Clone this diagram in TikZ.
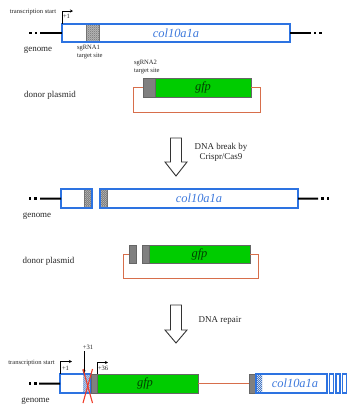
\documentclass[tikz,border=0pt]{standalone}
\usepackage{fontspec}
\setmainfont{Liberation Serif}
\usetikzlibrary{arrows.meta,patterns,fit}
\pgfdeclarepatternformonly{finecheck}{\pgfqpoint{-.1pt}{-.1pt}}{\pgfqpoint{2.1pt}{2.1pt}}{\pgfqpoint{2pt}{2pt}}{%
  \pgfpathrectangle{\pgfqpoint{0pt}{0pt}}{\pgfqpoint{1pt}{1pt}}%
  \pgfpathrectangle{\pgfqpoint{1pt}{1pt}}{\pgfqpoint{1pt}{1pt}}%
  \pgfusepath{fill}}
\definecolor{gblue}{RGB}{45,115,225}
\definecolor{gtext}{RGB}{60,120,220}
\definecolor{gfpgreen}{RGB}{0,204,0}
\definecolor{sggray}{RGB}{128,128,128}
\definecolor{plorange}{RGB}{215,110,75}
\definecolor{xred}{RGB}{240,60,40}
\begin{document}
\begin{tikzpicture}[x=1bp,y=-1bp,
  every node/.style={outer sep=0pt, inner sep=0pt, text=black!85},
  genebox/.style={draw=gblue, line width=1.3bp},
  gfpbox/.style={draw=black!60, line width=0.8bp, fill=gfpgreen},
  sgbox/.style={draw=black!60, line width=0.8bp, fill=sggray},
  checker/.style={draw=black!55, line width=0.4bp, pattern=finecheck, pattern color=black!75},
  bchecker/.style={pattern=finecheck, pattern color=gblue!70!gray},
  chrom/.style={line width=2bp, black},
  dotm/.style={fill=black, minimum size=2.6bp},
  plasmid/.style={draw=plorange, line width=1bp},
  lbl/.style={font=\fontsize{9}{10}\selectfont},
  small/.style={font=\fontsize{6.6}{8}\selectfont},
  gene/.style={font=\fontsize{12.5}{13}\selectfont\itshape, text=gtext},
  gfptext/.style={font=\fontsize{12.5}{13}\selectfont\itshape, text=black!75!green},
  tss/.style={-{Stealth[length=3bp,width=3bp]}, line width=0.6bp},
  bigarrow/.style={draw=black!80, line width=0.9bp, fill=white},
  redx/.style={draw=xred, line width=1.1bp}
]
\useasboundingbox (0,0) rectangle (347,407);

% ---------------- Section 1 ----------------
\node[checker, fit={(86,24) (99,42)}] (c1) {};
\node[genebox, fit={(62,24) (290,42)}] (g1) {};
\node[gene] (g1t) at (g1.center) {col10a1a};
\node[dotm] (d1a) at (30.5,33) {};
\node[dotm] (d1b) at (35.8,33) {};
\coordinate (l1) at (40,33);
\draw[chrom] (l1) -- (g1.west);
\coordinate (r1) at (311,33);
\draw[chrom] (g1.east) -- (r1);
\node[dotm] (d1c) at (315,33) {};
\node[dotm] (d1d) at (320.5,33) {};
\coordinate (t1e) at (73,11);
\draw[tss] (g1.north west) |- (t1e);
\node[small, anchor=west] (p1) at (63,16.5) {+1};
\node[small] (ts1) at (33,12) {transcription start};
\node[small, align=left, anchor=north west] (sg1) at (77,45.5) {sgRNA1\\target site};
\node[lbl] (gen1) at (38,50) {genome};

\node[sgbox, fit={(143,78) (155,97)}] (s2) {};
\node[gfpbox, fit={(155,78) (251,97)}] (gfp1) {};
\node[gfptext] (gfp1t) at (gfp1.center) {gfp};
\coordinate (o1a) at (133,112);
\coordinate (o1b) at (260,112);
\draw[plasmid] (s2.west) -| (o1a) -- (o1b) |- (gfp1.east);
\node[small, align=left, anchor=north west] (sg2) at (134,60.5) {sgRNA2\\target site};
\node[lbl] (don1) at (50,95) {donor plasmid};

% arrow 1
\draw[bigarrow] (170.5,138) -- (181.5,138) -- (181.5,162) -- (187,162) -- (176,176) -- (165,162) -- (170.5,162) -- cycle;
\node[lbl, align=center] (brk) at (221,152) {DNA break by\\Crispr/Cas9};

% ---------------- Section 2 ----------------
\node[checker, fit={(84,189) (91.5,208)}] (c2a) {};
\node[checker, fit={(100,189) (107,208)}] (c2b) {};
\node[genebox, fit={(61,189) (92,208)}] (g2a) {};
\node[genebox, fit={(100,189) (298,208)}] (g2b) {};
\node[gene] (g2t) at (g2b.center) {col10a1a};
\node[dotm] (d2a) at (30,198.5) {};
\node[dotm] (d2b) at (35.5,198.5) {};
\coordinate (l2) at (40,198.5);
\draw[chrom] (l2) -- (g2a.west);
\coordinate (r2) at (318,198.5);
\draw[chrom] (g2b.east) -- (r2);
\node[dotm] (d2c) at (322.5,198.5) {};
\node[dotm] (d2d) at (328,198.5) {};
\node[lbl] (gen2) at (37,216) {genome};

\node[sgbox, fit={(129,245) (136,263)}] (s3) {};
\node[sgbox, fit={(142,245) (149,263)}] (s4) {};
\node[gfpbox, fit={(149,245) (250,263)}] (gfp2) {};
\node[gfptext] (gfp2t) at (gfp2.center) {gfp};
\coordinate (o2a) at (123,278);
\coordinate (o2b) at (258,278);
\draw[plasmid] (s3.west) -| (o2a) -- (o2b) |- (gfp2.east);
\node[lbl] (don2) at (48.5,261) {donor plasmid};

% arrow 2
\draw[bigarrow] (170.5,305) -- (181.5,305) -- (181.5,330) -- (187,330) -- (176,343) -- (165,330) -- (170.5,330) -- cycle;
\node[lbl] (rep) at (220,320) {DNA repair};

% ---------------- Section 3 ----------------
\node[bchecker, fit={(83,374) (91,393)}] (c3a) {};
\node[genebox, fit={(60,374) (91,393)}] (g3a) {};
\node[sgbox, fit={(91,374) (97,393)}] (s5) {};
\node[gfpbox, fit={(97,374) (198,393)}] (gfp3) {};
\node[gfptext] (gfp3t) at (145,383.5) {gfp};
\node[sgbox, fit={(249,374) (256,393)}] (s6) {};
\draw[plasmid] (gfp3.east) -- (s6.west);
\node[bchecker, fit={(256,374) (262,393)}] (c3b) {};
\node[genebox, fit={(256,374) (327,393)}] (g3b) {};
\node[gene] (g3t) at (295,383.5) {col10a1a};
\node[genebox, fit={(329.5,374) (333.5,393)}] (e1) {};
\node[genebox, fit={(336,374) (340,393)}] (e2) {};
\node[genebox, fit={(342.5,374) (346.5,393)}] (e3) {};

\node[dotm] (d3a) at (30,383.5) {};
\node[dotm] (d3b) at (35.5,383.5) {};
\coordinate (l3) at (39,383.5);
\draw[chrom] (l3) -- (g3a.west);
\node[lbl] (gen3) at (35.5,401) {genome};
\node[small] (ts3) at (31.5,363) {transcription start};

\coordinate (t3e) at (72,361.5);
\draw[tss] (g3a.north west) |- (t3e);
\node[small, anchor=west] (p3) at (62,368) {+1};

\node[small] (p31) at (88,347) {+31};
\coordinate (a31s) at (84,351);
\coordinate (a31e) at (84,373.5);
\draw[tss] (a31s) -- (a31e);

\coordinate (t36e) at (108,362.5);
\draw[tss] (s5.north east) |- (t36e);
\node[small, anchor=west] (p36) at (98,368) {+36};

\coordinate (x1a) at (83,369);
\coordinate (x1b) at (92.5,403);
\coordinate (x2a) at (92.5,369);
\coordinate (x2b) at (83,403);
\draw[redx] (x1a) -- (x1b);
\draw[redx] (x2a) -- (x2b);
\end{tikzpicture}
\end{document}
